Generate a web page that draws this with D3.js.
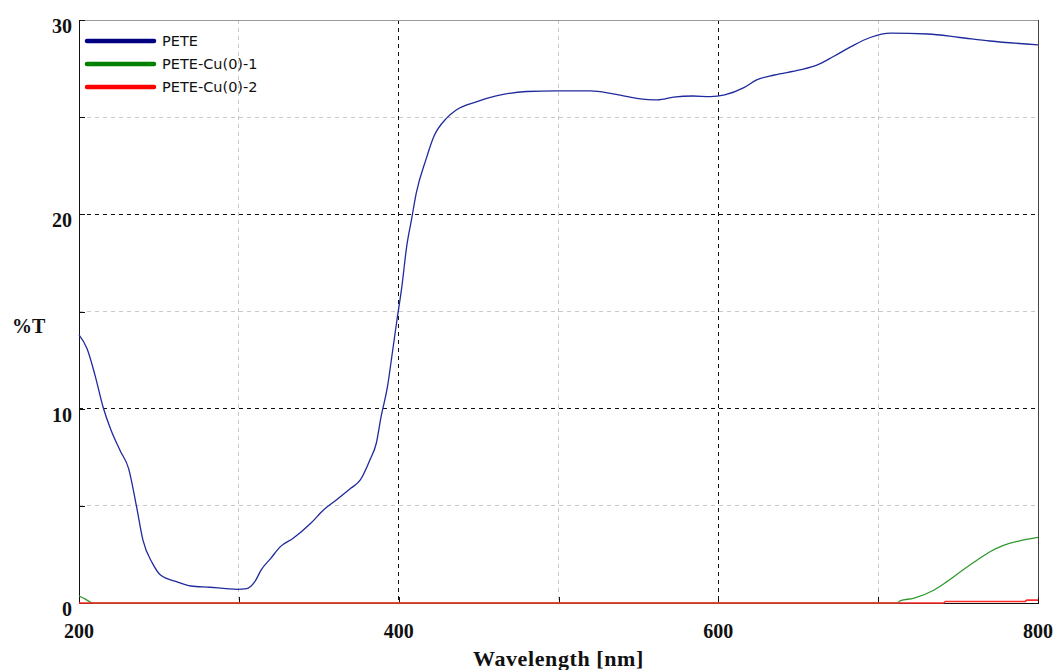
<!DOCTYPE html>
<html><head><meta charset="utf-8">
<script src="https://cdn.jsdelivr.net/npm/d3@7"></script>
<style>body{margin:0;background:#fff}svg{display:block}</style>
</head><body>
<script>
const seriesNames = ["PETE", "PETE-Cu(0)-1", "PETE-Cu(0)-2"];
const seriesColors = ["#1f2a9c", "#2e9a2e", "#ff2a2a"];
const legendColors = ["#000080", "#008000", "#ff0000"];

const peteWl = [200,205,210,215,220,226,231,236,240,246,251,261,270,282,292,299,305,310,314,320,326,334,345,353,361,370,376,382,386,389,393,396,399,402,405,408,411,417,422,430,436,449,461,480,499,520,534,549,562,572,584,595,604,616,624,635,651,662,672,683,695,708,731,751,770,800];
const peteT  = [13.8,13.1,11.73,10.1,8.9,7.8,6.93,4.96,3.24,2.04,1.44,1.10,0.875,0.81,0.74,0.70,0.74,1.10,1.70,2.30,2.90,3.33,4.10,4.79,5.30,5.90,6.33,7.36,8.22,9.59,11.13,12.85,14.6,16.28,18.34,19.71,21.09,22.8,24.0,24.95,25.37,25.8,26.09,26.32,26.35,26.35,26.2,25.97,25.89,26.03,26.09,26.06,26.15,26.52,26.92,27.17,27.43,27.69,28.12,28.63,29.1,29.32,29.28,29.1,28.92,28.72];

const cu1Wl = [200,204,207,210,712,714,722,735,743,753,762,770,778,789,800];
const cu1T  = [0.36,0.2,0.05,0,0,0.12,0.24,0.67,1.1,1.7,2.21,2.64,2.95,3.21,3.38];

const cu2Wl = [200,741,742,792,793,800];
const cu2T  = [0,0,0.08,0.08,0.15,0.15];

const xMajor = [200,400,600,800];
const xMinor = [300,500,700];
const yMajor = [0,10,20,30];
const yMinor = [5,15,25];

const W = 1056, H = 670;
const L = 79, R = 1038, T = 20, B = 603;

const svg = d3.select("body").append("svg").attr("width", W).attr("height", H);
const x = d3.scaleLinear().domain([200, 800]).range([L, R]);
const y = d3.scaleLinear().domain([0, 30]).range([B, T]);

const g = svg.append("g");
// grid
xMinor.forEach(v => g.append("line").attr("x1", x(v)).attr("x2", x(v)).attr("y1", T).attr("y2", B)
  .attr("stroke", "#c8c8c8").attr("stroke-dasharray", "4,4").attr("shape-rendering","crispEdges"));
yMinor.forEach(v => g.append("line").attr("x1", L).attr("x2", R).attr("y1", y(v)).attr("y2", y(v))
  .attr("stroke", "#c8c8c8").attr("stroke-dasharray", "4,4").attr("shape-rendering","crispEdges"));
xMajor.slice(1, -1).forEach(v => g.append("line").attr("x1", x(v)).attr("x2", x(v)).attr("y1", T).attr("y2", B)
  .attr("stroke", "#111").attr("stroke-dasharray", "4,4").attr("shape-rendering","crispEdges"));
yMajor.slice(1, -1).forEach(v => g.append("line").attr("x1", L).attr("x2", R).attr("y1", y(v)).attr("y2", y(v))
  .attr("stroke", "#111").attr("stroke-dasharray", "4,4").attr("shape-rendering","crispEdges"));

// frame
svg.append("line").attr("x1", L).attr("x2", R).attr("y1", T).attr("y2", T).attr("stroke", "#9a9a9a").attr("shape-rendering","crispEdges");
svg.append("line").attr("x1", R).attr("x2", R).attr("y1", T).attr("y2", B).attr("stroke", "#444").attr("shape-rendering","crispEdges");

// axes
const xAxis = d3.axisBottom(x).tickValues(xMajor.concat(xMinor)).tickSize(-6).tickFormat("");
const yAxis = d3.axisLeft(y).tickValues(yMajor.concat(yMinor)).tickSize(-6).tickFormat("");
const ga = svg.append("g").attr("transform", `translate(0,${B})`).call(xAxis);
const gy = svg.append("g").attr("transform", `translate(${L},0)`).call(yAxis);
[ga, gy].forEach(a => { a.selectAll("path,line").attr("stroke", "#111").attr("shape-rendering","crispEdges"); });

// tick labels
svg.selectAll(".xl").data(xMajor).enter().append("text")
  .attr("x", d => x(d)).attr("y", 638).attr("text-anchor", "middle")
  .attr("font-family", "Liberation Serif, serif").attr("font-weight", "bold").attr("font-size", 20)
  .attr("fill", "#111").text(d => d);
svg.selectAll(".yl").data(yMajor).enter().append("text")
  .attr("x", 72).attr("y", d => y(d) + 13).attr("text-anchor", "end")
  .attr("font-family", "Liberation Serif, serif").attr("font-weight", "bold").attr("font-size", 20)
  .attr("fill", "#111").text(d => d);

svg.append("text").attr("x", (L + R) / 2).attr("y", 666).attr("text-anchor", "middle")
  .attr("font-family", "Liberation Serif, serif").attr("font-weight", "bold").attr("font-size", 22)
  .attr("letter-spacing", 0.6)
  .attr("fill", "#111").text("Wavelength [nm]");
svg.append("text").attr("x", 12).attr("y", 333)
  .attr("font-family", "Liberation Serif, serif").attr("font-weight", "bold").attr("font-size", 20)
  .attr("fill", "#111").text("%T");

// lines
const data = [
  d3.zip(peteWl, peteT),
  d3.zip(cu1Wl, cu1T),
  d3.zip(cu2Wl, cu2T)
];
const curves = [d3.curveMonotoneX, d3.curveMonotoneX, d3.curveLinear];
data.forEach((d, i) => {
  const line = d3.line().x(p => x(p[0])).y(p => y(p[1])).curve(curves[i]);
  svg.append("path").datum(d).attr("d", line).attr("fill", "none")
    .attr("stroke", seriesColors[i]).attr("stroke-width", i === 2 ? 1.6 : 1.3);
});

// legend
seriesNames.forEach((n, i) => {
  const yy = 41 + i * 23;
  svg.append("line").attr("x1", 87).attr("x2", 154).attr("y1", yy).attr("y2", yy)
    .attr("stroke", legendColors[i]).attr("stroke-width", 4.5).attr("stroke-linecap", "round");
  svg.append("text").attr("x", 162).attr("y", yy + 5)
    .attr("font-family", "DejaVu Sans, sans-serif").attr("font-size", 14.5)
    .attr("fill", "#111").text(n);
});
</script>
</body></html>
